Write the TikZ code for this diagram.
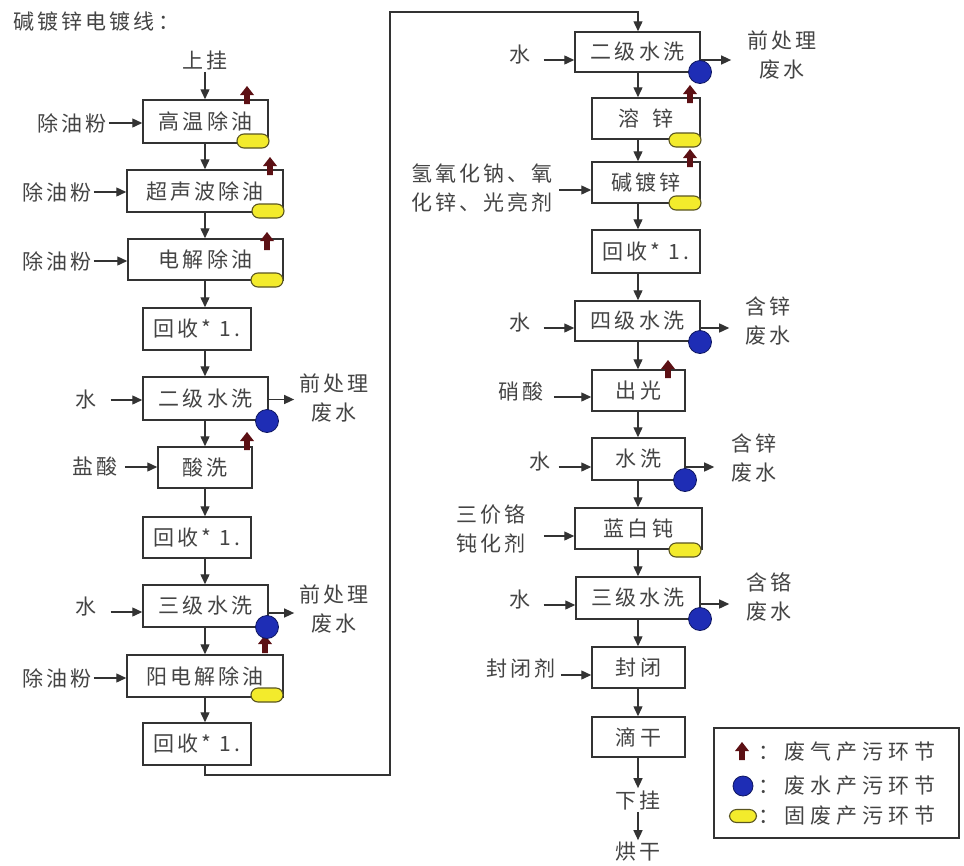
\documentclass[tikz,border=0pt]{standalone}
\usepackage{fontspec}
\newfontfamily\cjk{Noto Sans CJK SC}[LetterSpace=15]
\newfontfamily\cjkw{Noto Sans CJK SC}[LetterSpace=24]
\usetikzlibrary{arrows.meta}
\definecolor{txt}{HTML}{444444}
\definecolor{ln}{HTML}{333333}
\definecolor{gasc}{HTML}{5C1014}
\definecolor{wwf}{HTML}{1E2DB5}
\definecolor{wwd}{HTML}{0E1660}
\definecolor{swf}{HTML}{F3EB2C}
\definecolor{swd}{HTML}{5A5520}
\begin{document}
\begin{tikzpicture}[x=1pt,y=-1pt,
  every node/.style={text=txt, font=\cjk\fontsize{21}{29}\selectfont},
  box/.style={draw=ln, line width=1.5pt, fill=white, minimum height=42pt, inner sep=0pt},
  lbl/.style={inner sep=2pt, align=center},
  arr/.style={draw=ln, line width=1.4pt, -{Triangle[length=10pt,width=9pt]}},
  ww/.style={circle, fill=wwf, draw=wwd, line width=0.8pt, minimum size=23pt, inner sep=0pt},
  sw/.style={rectangle, rounded corners=7pt, fill=swf, draw=swd, line width=1.1pt, minimum width=32pt, minimum height=14pt, inner sep=0pt},
  gas/.pic={\fill[gasc] (-2.8,0) -- (-2.8,-9) -- (-7,-9) -- (0,-18) -- (7,-9) -- (2.8,-9) -- (2.8,0) -- cycle;}
]
\useasboundingbox[fill=white] (0,0) rectangle (964,865);
\coordinate (lc) at (205,0);
\coordinate (rc) at (638,0);

% title
\node[anchor=west, inner sep=0pt] (title) at (13,22) {碱镀锌电镀线：};

% left column
\node[lbl] (sg) at (205,60) {上挂};
\node[box, minimum width=125pt, minimum height=43pt] (L1) at (205.5,121.5) {高温除油};
\node[box, minimum width=156pt] (L2) at (205,191) {超声波除油};
\node[box, minimum width=155pt, minimum height=41pt] (L3) at (205.5,259.5) {电解除油};
\node[box, minimum width=108pt] (L4) at (197,329) {回收* 1.};
\node[box, minimum width=125pt, minimum height=43pt] (L5) at (205.5,398.5) {二级水洗};
\node[box, minimum width=94pt, minimum height=41pt] (L6) at (205,467.5) {酸洗};
\node[box, minimum width=108pt, minimum height=41pt] (L7) at (197,537.5) {回收* 1.};
\node[box, minimum width=125pt] (L8) at (205.5,606) {三级水洗};
\node[box, minimum width=156pt] (L9) at (205,676) {阳电解除油};
\node[box, minimum width=108pt] (L10) at (197,744) {回收* 1.};

\foreach \a/\b in {sg/L1,L1/L2,L2/L3,L3/L4,L4/L5,L5/L6,L6/L7,L7/L8,L8/L9,L9/L10}
  \draw[arr] (\a.south -| lc) -- (\b.north -| lc);

% left inputs
\node[lbl] (i1) at (72,123) {除油粉};
\node[lbl] (i2) at (57,192) {除油粉};
\node[lbl] (i3) at (57,261) {除油粉};
\node[lbl] (i5) at (86,400) {水};
\node[lbl] (i6) at (95,467) {盐酸};
\node[lbl] (i8) at (86,607) {水};
\node[lbl] (i9) at (57,678) {除油粉};
\draw[arr] (i1.east) -- (i1.east -| L1.west);
\draw[arr] (i2.east) -- (i2.east -| L2.west);
\draw[arr] (i3.east) -- (i3.east -| L3.west);
\draw[arr] ([xshift=12pt]i5.east) -- (i5.east -| L5.west);
\draw[arr] ([xshift=5pt]i6.east) -- (i6.east -| L6.west);
\draw[arr] ([xshift=12pt,yshift=-5pt]i8.east) -- ([yshift=-5pt]i8.east -| L8.west);
\draw[arr] (i9.east) -- (i9.east -| L9.west);

% left outputs
\node[lbl] (o5) at (334,398) {前处理\\废水};
\node[lbl] (o8) at (334,609) {前处理\\废水};
\draw[arr] ([yshift=-1pt]L5.east) -- ([yshift=-1pt,xshift=-3pt]L5.east -| o5.west);
\draw[arr] ([yshift=-7pt]L8.east) -- ([yshift=-7pt,xshift=-3pt]L8.east -| o8.west);

% right column
\node[box, minimum width=125pt, minimum height=40pt] (R1) at (637.5,52) {二级水洗};
\node[box, minimum width=108pt, minimum height=41pt] (R2) at (646,118.5) {溶\hspace{14pt}锌};
\node[box, minimum width=108pt, minimum height=41pt] (R3) at (646,182.5) {碱镀锌};
\node[box, minimum width=108pt, minimum height=43pt] (R4) at (646,251.5) {回收* 1.};
\node[box, minimum width=125pt, minimum height=40pt] (R5) at (637.5,321) {四级水洗};
\node[box, minimum width=93pt, minimum height=41pt] (R6) at (638.5,390.5) {出光};
\node[box, minimum width=93pt] (R7) at (638.5,459) {水洗};
\node[box, minimum width=127pt, minimum height=41pt] (R8) at (638.5,528.5) {蓝白钝};
\node[box, minimum width=124pt] (R9) at (638,598) {三级水洗};
\node[box, minimum width=93pt, minimum height=41pt] (R10) at (638.5,667.5) {封闭};
\node[box, minimum width=93pt, minimum height=40pt] (R11) at (638.5,737) {滴干};
\node[lbl] (xg) at (638,800) {下挂};
\node[lbl] (hg) at (638,852) {烘干};

\foreach \a/\b in {R1/R2,R2/R3,R3/R4,R4/R5,R5/R6,R6/R7,R7/R8,R8/R9,R9/R10,R10/R11,R11/xg,xg/hg}
  \draw[arr] (\a.south -| rc) -- (\b.north -| rc);

% return line
\coordinate (ret1) at (390,775);
\coordinate (ret2) at (390,12);
\draw[arr] (L10.south -| lc) |- (ret1) -- (ret2) -| (R1.north -| rc);

% right inputs
\node[lbl] (j1) at (520,55) {水};
\node[lbl, align=left] (j3) at (482,188) {氢氧化钠、氧\\化锌、光亮剂};
\node[lbl] (j5) at (520,323) {水};
\node[lbl] (j6) at (521,392) {硝酸};
\node[lbl] (j7) at (540,462) {水};
\node[lbl] (j8) at (491,529) {三价铬\\钝化剂};
\node[lbl] (j9) at (520,600) {水};
\node[lbl] (j10) at (521,668) {封闭剂};
\draw[arr] ([xshift=11pt,yshift=-5pt]j1.east) -- ([yshift=-5pt]j1.east -| R1.west);
\draw[arr] ([xshift=4pt,yshift=-2pt]j3.east) -- ([yshift=-2pt]j3.east -| R3.west);
\draw[arr] ([xshift=11pt,yshift=-5pt]j5.east) -- ([yshift=-5pt]j5.east -| R5.west);
\draw[arr] ([xshift=8pt,yshift=-5pt]j6.east) -- ([yshift=-5pt]j6.east -| R6.west);
\draw[arr] ([xshift=6pt,yshift=-5pt]j7.east) -- ([yshift=-5pt]j7.east -| R7.west);
\draw[arr] ([xshift=16pt,yshift=-7pt]j8.east) -- ([yshift=-7pt]j8.east -| R8.west);
\draw[arr] ([xshift=11pt,yshift=-5pt]j9.east) -- ([yshift=-5pt]j9.east -| R9.west);
\draw[arr] ([xshift=3pt,yshift=-7pt]j10.east) -- ([yshift=-7pt]j10.east -| R10.west);

% right outputs
\node[lbl] (p1) at (782,55) {前处理\\废水};
\node[lbl] (p5) at (768,321) {含锌\\废水};
\node[lbl] (p7) at (754,458) {含锌\\废水};
\node[lbl] (p9) at (769,597) {含铬\\废水};
\draw[arr] ([yshift=-8pt]R1.east) -- ([yshift=-8pt,xshift=-14pt]R1.east -| p1.west);
\draw[arr] ([yshift=-7pt]R5.east) -- ([yshift=-7pt,xshift=-14pt]R5.east -| p5.west);
\draw[arr] ([yshift=-8pt]R7.east) -- ([yshift=-8pt,xshift=-15pt]R7.east -| p7.west);
\draw[arr] ([yshift=-6pt]R9.east) -- ([yshift=-6pt,xshift=-15pt]R9.east -| p9.west);

% gas markers
\pic at (247,104) {gas};
\pic at (270,175) {gas};
\pic at (267,250) {gas};
\pic at (247,450) {gas};
\pic at (265,653) {gas};
\pic at (690,103) {gas};
\pic at (690,167) {gas};
\pic at (668,378) {gas};

% solid waste markers
\node[sw] (s1) at (253,141) {};
\node[sw] (s2) at (268,211) {};
\node[sw] (s3) at (267,280) {};
\node[sw] (s9) at (267,695) {};
\node[sw] (t2) at (685,140) {};
\node[sw] (t3) at (685,203) {};
\node[sw] (t8) at (685,550) {};

% waste water markers
\node[ww] (w5) at (267,421) {};
\node[ww] (w8) at (267,627) {};
\node[ww] (v1) at (700,72) {};
\node[ww] (v5) at (700,342) {};
\node[ww] (v7) at (685,480) {};
\node[ww] (v9) at (700,619) {};

% legend
\node[draw=ln, line width=1.5pt, minimum width=245pt, minimum height=110pt, inner sep=0pt] (leg) at (836.5,783) {};
\pic at (742,760) {gas};
\node[ww, minimum size=20pt] (lw) at (743,786) {};
\node[sw, minimum width=27pt, minimum height=13pt] (ls) at (743,816) {};
\node[anchor=west, inner sep=0pt, font=\cjkw\fontsize{21}{29}\selectfont] (lt1) at (758,752) {：废气产污环节};
\node[anchor=west, inner sep=0pt, font=\cjkw\fontsize{21}{29}\selectfont] (lt2) at (758,786) {：废水产污环节};
\node[anchor=west, inner sep=0pt, font=\cjkw\fontsize{21}{29}\selectfont] (lt3) at (758,816) {：固废产污环节};
\end{tikzpicture}
\end{document}
